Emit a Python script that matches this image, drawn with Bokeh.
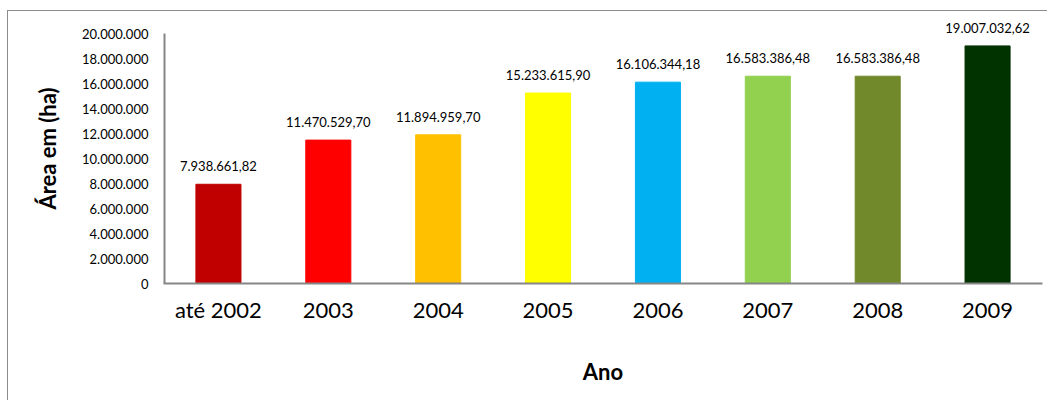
from bokeh.plotting import figure
from bokeh.models import (FixedTicker, CustomJSTickFormatter, ColumnDataSource,
                          LabelSet, Range1d)
from bokeh.core.properties import value
from bokeh.embed import file_html
from bokeh.resources import INLINE

categories = ["até 2002", "2003", "2004", "2005", "2006", "2007", "2008", "2009"]
areas = [7938661.82, 11470529.70, 11894959.70, 15233615.90, 16106344.18,
         16583386.48, 16583386.48, 19007032.62]
colors = ["#C00000", "#FF0000", "#FFC000", "#FFFF00", "#00B0F0", "#92D050", "#71892A", "#003300"]
y_ticks = [0, 2000000, 4000000, 6000000, 8000000, 10000000, 12000000,
           14000000, 16000000, 18000000, 20000000]
y_axis_max = 20000000


def fmt_br(v):
    s = f"{v:,.2f}"
    return s.replace(",", "X").replace(".", ",").replace("X", ".")


labels = [fmt_br(v) for v in areas]
xpos = list(range(len(categories)))

src = ColumnDataSource(dict(x=xpos, area=areas, color=colors, label=labels))

FONT = "Lato"

x_lo = xpos[0] - 0.5
x_hi = xpos[-1] + 0.5

p = figure(x_range=Range1d(x_lo, x_hi), y_range=(0, 21600000),
           width=1040, height=390, output_backend="svg", toolbar_location=None,
           min_border_left=155, min_border_right=6, min_border_top=2, min_border_bottom=118)
p.styles = {"border-top": "1px solid #8c8c8c", "border-left": "1px solid #8c8c8c",
            "margin-left": "7px", "margin-top": "10px"}

p.vbar(x="x", top="area", width=0.41, color="color", source=src)
p.add_layout(LabelSet(x="x", y="area", text="label", source=src, text_align="center",
                      text_baseline="alphabetic", y_offset=13, text_font=value(FONT),
                      text_font_size="13px", text_color="#000000"))

# value axis line, which ends at the top tick (20.000.000)
p.segment(x0=[x_lo], y0=[0], x1=[x_lo], y1=[y_axis_max],
          line_color="#868686", line_width=4)

p.outline_line_color = None
p.xgrid.grid_line_color = None
p.ygrid.grid_line_color = None

for ax in (p.xaxis[0], p.yaxis[0]):
    ax.axis_line_color = "#868686"
    ax.axis_line_width = 2
    ax.major_tick_line_color = None
    ax.minor_tick_line_color = None
    ax.major_tick_out = 0
    ax.major_tick_in = 0
    ax.major_label_text_font = FONT
    ax.axis_label_text_font = FONT
    ax.axis_label_text_font_style = "bold"
    ax.major_label_text_color = "#000000"
    ax.axis_label_text_color = "#000000"

p.yaxis.axis_line_color = None

p.xaxis.axis_label = "Ano"
p.xaxis.ticker = FixedTicker(ticks=xpos)
p.xaxis.major_label_overrides = {i: c for i, c in zip(xpos, categories)}
p.xaxis.major_label_text_font_size = "22px"
p.xaxis.major_label_standoff = 12
p.xaxis.axis_label_text_font_size = "22px"
p.xaxis.axis_label_standoff = 32

p.yaxis.axis_label = "Área em (ha)"
p.yaxis.ticker = FixedTicker(ticks=y_ticks)
p.yaxis.formatter = CustomJSTickFormatter(
    code="return Math.round(tick).toString().replace(/\\B(?=(\\d{3})+(?!\\d))/g, '.');")
p.yaxis.major_label_text_font_size = "13px"
p.yaxis.major_label_standoff = 15
p.yaxis.axis_label_text_font_size = "22px"
p.yaxis.axis_label_standoff = 18

open("out.html", "w").write(file_html(p, INLINE))
